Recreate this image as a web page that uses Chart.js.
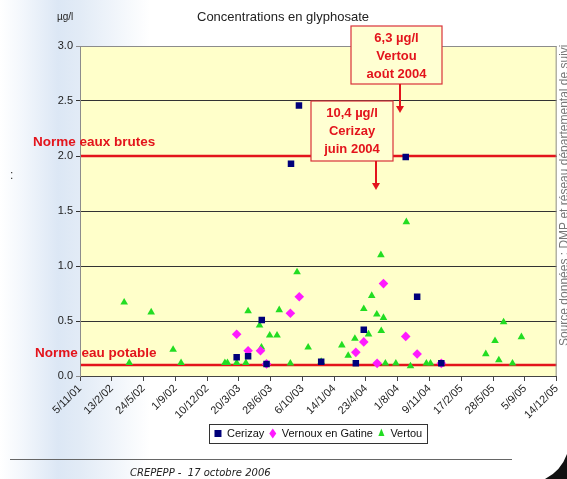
<!DOCTYPE html>
<html lang="fr">
<head>
<meta charset="utf-8">
<title>Concentrations en glyphosate</title>
<script src="https://cdn.jsdelivr.net/npm/chart.js@4.4.1/dist/chart.umd.min.js"></script>
<style>
  html, body { margin: 0; padding: 0; }
  body {
    width: 567px; height: 479px; overflow: hidden;
    background: linear-gradient(to right, #ffffff 0px, #f3f7fc 22px, #dce7f5 58px, #e2ebf6 80px, #ffffff 150px);
  }
  #wrap { position: relative; width: 567px; height: 479px; }
  canvas { display: block; }
</style>
</head>
<body>
<div id="wrap"><canvas id="glyphoChart" width="567" height="479"></canvas></div>
<script>
// Date axis, one tick every 100 days
const tickDates = ['2001-11-05', '2002-02-13', '2002-05-24', '2002-09-01', '2002-12-10', '2003-03-20',
    '2003-06-28', '2003-10-06', '2004-01-14', '2004-04-23', '2004-08-01', '2004-11-09',
    '2005-02-17', '2005-05-28', '2005-09-05', '2005-12-14'];
const tickLabels = ['5/11/01', '13/2/02', '24/5/02', '1/9/02', '10/12/02', '20/3/03', '28/6/03', '6/10/03',
    '14/1/04', '23/4/04', '1/8/04', '9/11/04', '17/2/05', '28/5/05', '5/9/05', '14/12/05'];
const yTicks = [0, 0.5, 1, 1.5, 2, 2.5, 3];

// Cerizay
const cerizayDates = ['2003-03-13', '2003-04-18', '2003-05-31', '2003-06-15', '2003-08-31', '2003-09-25',
    '2003-12-04', '2004-03-22', '2004-04-16', '2004-08-26', '2004-10-01', '2004-12-16'];
const cerizayValues = [0.17, 0.18, 0.51, 0.11, 1.93, 2.46, 0.13, 0.115, 0.42, 1.99, 0.72, 0.115];

// Vernoux en Gatine
const vernouxDates = ['2003-03-13', '2003-04-18', '2003-05-27', '2003-06-15', '2003-08-29', '2003-09-26',
    '2004-03-22', '2004-04-16', '2004-05-28', '2004-06-17', '2004-08-26', '2004-10-01', '2004-12-16'];
const vernouxValues = [0.38, 0.23, 0.23, 0.11, 0.57, 0.72, 0.215, 0.31, 0.115, 0.84, 0.36, 0.20, 0.115];

// Vertou
const vertouDates = ['2002-03-24', '2002-04-09', '2002-06-17', '2002-08-25', '2002-09-19', '2003-02-04',
    '2003-02-12', '2003-03-13', '2003-04-11', '2003-04-18', '2003-05-24', '2003-05-30', '2003-06-25',
    '2003-07-18', '2003-07-25', '2003-08-29', '2003-09-19', '2003-10-24', '2003-12-04', '2004-02-07',
    '2004-02-27', '2004-03-19', '2004-04-16', '2004-05-01', '2004-05-11', '2004-05-27', '2004-06-09',
    '2004-06-10', '2004-06-17', '2004-06-23', '2004-07-26', '2004-08-28', '2004-09-10', '2004-10-30',
    '2004-11-12', '2005-05-05', '2005-06-03', '2005-06-15', '2005-06-30', '2005-07-28', '2005-08-25'];
const vertouValues = [0.67, 0.12, 0.58, 0.24, 0.12, 0.12,
    0.12, 0.12, 0.12, 0.59, 0.46, 0.26, 0.37,
    0.37, 0.60, 0.115, 0.945, 0.26, 0.13, 0.28,
    0.185, 0.34, 0.61, 0.38, 0.73, 0.56, 1.10,
    0.41, 0.53, 0.115, 0.115, 1.40, 0.09, 0.115,
    0.115, 0.20, 0.32, 0.145, 0.49, 0.115, 0.355];

// limits (µg/l)
const normeBrutes = 2.0;
const normePotable = 0.1;

// off-scale values shown as notes
const notes = [
    { lines: ['6,3 µg/l', 'Vertou', 'août 2004'], date: '2004-08-09' },
    { lines: ['10,4 µg/l', 'Cerizay', 'juin 2004'], date: '2004-05-25' }
];

function toDay(s) {
    const p = s.split('-').map(Number);
    return Date.UTC(p[0], p[1] - 1, p[2]) / 86400000;
}
function points(dates, values) {
    return dates.map((d, i) => ({ x: toDay(d), y: values[i] }));
}

const xMin = toDay(tickDates[0]);
const xMax = toDay(tickDates[tickDates.length - 1]);
const RED = '#e3141c';
const FONT = '"Liberation Sans", Arial, sans-serif';

function limitLine(v) {
    return {
        type: 'line',
        data: [{ x: xMin, y: v }, { x: xMax, y: v }],
        borderColor: RED,
        borderWidth: 2.5,
        pointRadius: 0,
        order: 10
    };
}

const decor = {
    id: 'decor',
    beforeDraw(chart) {
        const { ctx, chartArea: a } = chart;
        ctx.save();
        ctx.fillStyle = '#ffffca';
        ctx.fillRect(a.left, a.top, a.right - a.left, a.bottom - a.top);
        ctx.restore();
    },
    afterDraw(chart) {
        const { ctx, chartArea: a } = chart;
        const xs = chart.scales.x;
        ctx.save();

        // plot border
        ctx.strokeStyle = '#8c8c8c';
        ctx.lineWidth = 1;
        ctx.beginPath();
        ctx.moveTo(a.left + 0.5, a.bottom);
        ctx.lineTo(a.left + 0.5, a.top + 0.5);
        ctx.lineTo(a.right - 0.5, a.top + 0.5);
        ctx.lineTo(a.right - 0.5, a.bottom);
        ctx.stroke();

        // title and unit
        ctx.fillStyle = '#222';
        ctx.textBaseline = 'middle';
        ctx.textAlign = 'center';
        ctx.font = '13px ' + FONT;
        ctx.fillText('Concentrations en glyphosate', 283, 17);
        ctx.textAlign = 'left';
        ctx.font = '10px ' + FONT;
        ctx.fillText('µg/l', 57, 17);

        // limit labels
        ctx.fillStyle = RED;
        ctx.font = 'bold 13.5px ' + FONT;
        ctx.textBaseline = 'alphabetic';
        ctx.fillText('Norme eaux brutes', 33, 146);
        ctx.fillText('Norme eau potable', 35, 357);

        // notes with arrows
        const boxes = [
            { left: 351, top: 26, w: 91, h: 58, arrowTo: 113 },
            { left: 311, top: 101, w: 82, h: 60, arrowTo: 190 }
        ];
        notes.forEach((n, i) => {
            const b = boxes[i];
            const ax = Math.round(xs.getPixelForValue(toDay(n.date)));
            ctx.fillStyle = '#ffffd2';
            ctx.fillRect(b.left, b.top, b.w, b.h);
            ctx.strokeStyle = '#d9333a';
            ctx.lineWidth = 1.2;
            ctx.strokeRect(b.left, b.top, b.w, b.h);
            ctx.fillStyle = RED;
            ctx.font = 'bold 13px ' + FONT;
            ctx.textAlign = 'center';
            ctx.textBaseline = 'middle';
            n.lines.forEach((t, k) => ctx.fillText(t, b.left + b.w / 2, b.top + 12 + k * 18));
            ctx.strokeStyle = RED;
            ctx.lineWidth = 2;
            ctx.beginPath();
            ctx.moveTo(ax, b.top + b.h);
            ctx.lineTo(ax, b.arrowTo - 6);
            ctx.stroke();
            ctx.beginPath();
            ctx.moveTo(ax - 4, b.arrowTo - 7);
            ctx.lineTo(ax + 4, b.arrowTo - 7);
            ctx.lineTo(ax, b.arrowTo);
            ctx.closePath();
            ctx.fill();
        });

        // legend frame
        const hb = chart.legend.legendHitBoxes;
        if (hb && hb.length) {
            const l = Math.min(...hb.map(h => h.left)) - 5;
            const r = Math.max(...hb.map(h => h.left + h.width)) + 5;
            const t = Math.min(...hb.map(h => h.top)) - 4;
            const btm = Math.max(...hb.map(h => h.top + h.height)) + 4;
            ctx.strokeStyle = '#333';
            ctx.lineWidth = 1;
            ctx.strokeRect(Math.round(l) + 0.5, Math.round(t) + 0.5, Math.round(r - l), Math.round(btm - t));
        }

        // source text on the right edge
        ctx.save();
        ctx.translate(565, 346);
        ctx.rotate(-Math.PI / 2);
        ctx.fillStyle = '#777';
        ctx.font = '12px ' + FONT;
        ctx.textAlign = 'left';
        ctx.textBaseline = 'middle';
        ctx.fillText('Source données : DMP et réseau départemental de suivi', 0, 0);
        ctx.restore();

        ctx.fillStyle = '#333';
        ctx.font = '12px ' + FONT;
        ctx.textAlign = 'left';
        ctx.fillText(':', 10, 176);

        // footer
        ctx.strokeStyle = '#666';
        ctx.lineWidth = 1;
        ctx.beginPath();
        ctx.moveTo(10, 459.5);
        ctx.lineTo(512, 459.5);
        ctx.stroke();
        ctx.fillStyle = '#222';
        ctx.font = 'italic 10px "DejaVu Sans", sans-serif';
        ctx.textBaseline = 'alphabetic';
        ctx.fillText('CREPEPP -  17 octobre 2006', 130, 476);

        // page corner
        ctx.fillStyle = '#111';
        ctx.beginPath();
        ctx.moveTo(567, 454);
        ctx.quadraticCurveTo(561, 471, 545, 479);
        ctx.lineTo(567, 479);
        ctx.closePath();
        ctx.fill();

        ctx.restore();
    }
};

const ctx = document.getElementById('glyphoChart').getContext('2d');
new Chart(ctx, {
    type: 'scatter',
    data: {
        datasets: [
            {
                label: 'Cerizay',
                data: points(cerizayDates, cerizayValues),
                pointStyle: 'rect',
                pointRadius: 4.6,
                backgroundColor: '#00007a',
                borderColor: '#00007a',
                borderWidth: 0,
                order: 1
            },
            {
                label: 'Vernoux en Gatine',
                data: points(vernouxDates, vernouxValues),
                pointStyle: 'rectRot',
                pointRadius: 4.8,
                backgroundColor: '#ff1aff',
                borderColor: '#ff1aff',
                borderWidth: 0,
                order: 2
            },
            {
                label: 'Vertou',
                data: points(vertouDates, vertouValues),
                pointStyle: 'triangle',
                pointRadius: 4.4,
                backgroundColor: '#22dd22',
                borderColor: '#22dd22',
                borderWidth: 0,
                order: 3
            },
            limitLine(normeBrutes),
            limitLine(normePotable)
        ]
    },
    options: {
        responsive: false,
        animation: false,
        layout: { padding: { left: 0, right: 10, top: 46, bottom: 30 } },
        scales: {
            x: {
                type: 'linear',
                min: xMin,
                max: xMax,
                afterBuildTicks: s => { s.ticks = tickDates.map(d => ({ value: toDay(d) })); },
                afterFit: s => { s.height = 47; },
                ticks: {
                    autoSkip: false,
                    maxRotation: 45,
                    minRotation: 45,
                    padding: 1,
                    color: '#222',
                    font: { family: FONT, size: 11 },
                    callback: (v, i) => tickLabels[i]
                },
                grid: { drawOnChartArea: false, tickLength: 5, color: '#444' },
                border: { color: '#444' }
            },
            y: {
                min: 0,
                max: 3,
                afterBuildTicks: s => { s.ticks = yTicks.map(v => ({ value: v })); },
                afterFit: s => { s.width = 80; },
                ticks: {
                    padding: 3,
                    color: '#222',
                    font: { family: FONT, size: 11 },
                    callback: v => v.toFixed(1)
                },
                grid: {
                    tickLength: 4,
                    color: c => (c.tick && (c.tick.value === 0 || c.tick.value === 3)) ? '#8c8c8c' : '#333'
                },
                border: { color: '#8c8c8c' }
            }
        },
        plugins: {
            legend: {
                position: 'bottom',
                fullSize: false,
                labels: {
                    usePointStyle: true,
                    boxHeight: 7,
                    pointStyleWidth: 7,
                    padding: 5,
                    color: '#111',
                    font: { family: FONT, size: 11 },
                    filter: item => item.datasetIndex < 3
                }
            },
            tooltip: { enabled: false }
        }
    },
    plugins: [decor]
});
</script>
</body>
</html>
